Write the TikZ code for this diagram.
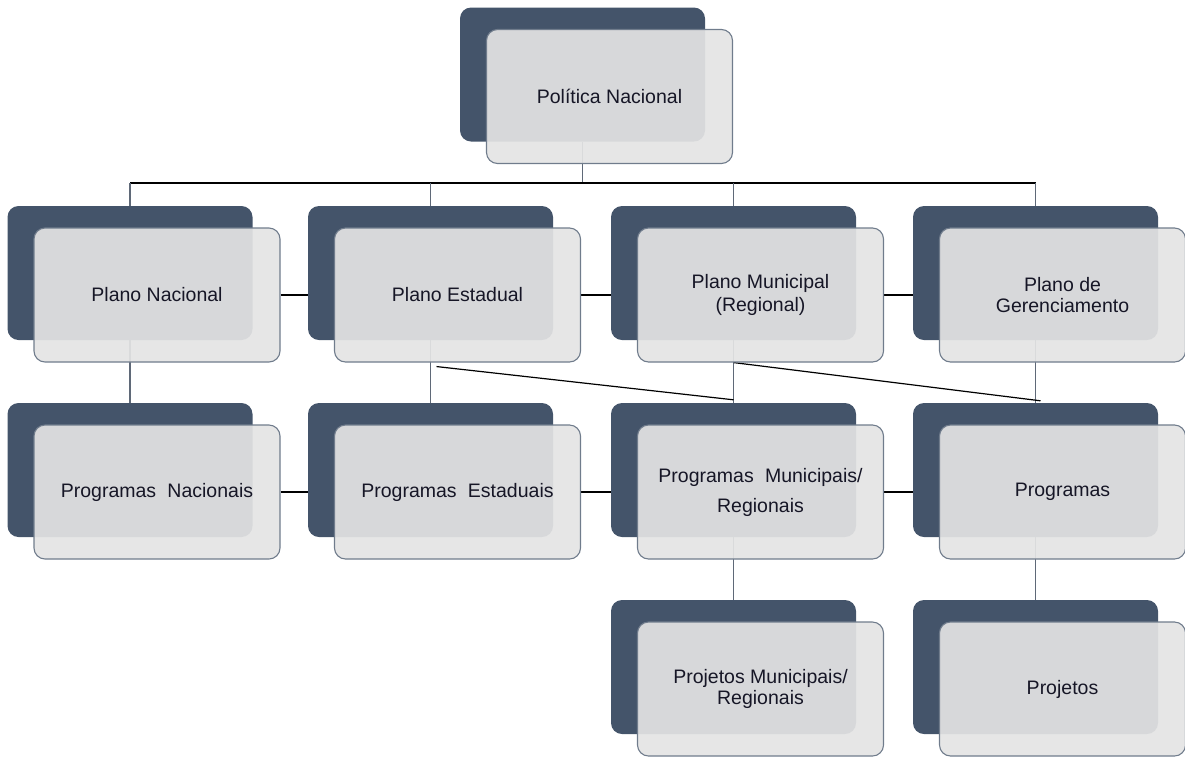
\documentclass[tikz,border=0pt]{standalone}
\usepackage{fontspec}
\setmainfont{Liberation Sans}
\usetikzlibrary{positioning,calc}
\pgfdeclarelayer{back}
\pgfdeclarelayer{links}
\pgfsetlayers{back,links,main}
\definecolor{slate}{RGB}{68,84,106}
\definecolor{paper}{RGB}{228,228,228}
\definecolor{rim}{RGB}{112,124,140}
\definecolor{stemgray}{RGB}{95,105,120}
\definecolor{ink}{RGB}{22,22,38}

% dark block behind, light card in front
\newcommand{\orgbox}[5][]{%
	\begin{pgfonlayer}{back}\node[backbox] (#2-b) at (#3,#4) {};\end{pgfonlayer}
	\node[card, xshift=27pt, yshift=-22pt, #1] (#2) at (#3,#4) {#5};}

\begin{document}
\begin{tikzpicture}[x=1pt,y=-1pt]
	\tikzset{backbox/.style={rounded corners=11pt, fill=slate, minimum width=245pt, minimum height=134pt, inner sep=0pt},
		card/.style={rounded corners=11pt, draw=rim, line width=1.1pt, fill=paper, fill opacity=0.92, text opacity=1,
			minimum width=246pt, minimum height=134pt, inner sep=0pt, align=center, text=ink,
			font=\fontsize{19.5}{23}\selectfont},
		wire/.style={line width=1.2pt, black},
		stem/.style={line width=1.2pt, stemgray}}
	\useasboundingbox (0,0) rectangle (1185,756);
	\clip (0,0) rectangle (1185,756);

	\orgbox{pol}{582.5}{74.5}{Política Nacional}
	% planos
	\orgbox{pnac}{130}{273}{Plano Nacional}
	\orgbox{pest}{430.5}{273}{Plano Estadual}
	\orgbox{pmun}{733.5}{273}{Plano Municipal\\(Regional)}
	\orgbox[font=\fontsize{19.5}{21}\selectfont]{pger}{1035.5}{273}{Plano de\\Gerenciamento}
	% programas
	\orgbox{gnac}{130}{470}{Programas\hspace{0.3em} Nacionais}
	\orgbox{gest}{430.5}{470}{Programas\hspace{0.3em} Estaduais}
	\orgbox[font=\fontsize{19.5}{30}\selectfont]{gmun}{733.5}{470}{Programas\hspace{0.3em} Municipais/\\Regionais}
	\orgbox{gger}{1035.5}{470}{Programas}
	% projetos
	\orgbox[font=\fontsize{19.5}{21}\selectfont]{jmun}{733.5}{667}{Projetos Municipais/\\Regionais}
	\orgbox{jger}{1035.5}{667}{Projetos}

	\begin{pgfonlayer}{links}
		\coordinate (bus) at (582.5,183);
		\draw[stem] (pol-b.south) -- (bus);
		\draw[wire] (pnac-b.north |- bus) -- (pger-b.north |- bus);
		\foreach \n in {pnac,pest,pmun,pger}
			\draw[stem] (\n-b.north) -- (\n-b.north |- bus);
		% same level
		\draw[wire] (pnac.east) -- (pnac.east -| pest-b.west);
		\draw[wire] (pest.east) -- (pest.east -| pmun-b.west);
		\draw[wire] (pmun.east) -- (pmun.east -| pger-b.west);
		\draw[wire] (gnac.east) -- (gnac.east -| gest-b.west);
		\draw[wire] (gest.east) -- (gest.east -| gmun-b.west);
		\draw[wire] (gmun.east) -- (gmun.east -| gger-b.west);
		% down
		\draw[stem] (pnac-b.south) -- (gnac-b.north);
		\draw[stem] (pest-b.south) -- (gest-b.north);
		\draw[stem] (pmun-b.south) -- (gmun-b.north);
		\draw[stem] (pger-b.south) -- (gger-b.north);
		\draw[stem] (gmun-b.south) -- (jmun-b.north);
		\draw[stem] (gger-b.south) -- (jger-b.north);
		% cross links
		\draw[wire] ($(pest-b.south |- pest.south)+(6,4)$) -- ($(gmun-b.north)+(0,-3)$);
		\draw[wire] (pmun-b.south |- pmun.south) -- ($(gger-b.north)+(5,-2)$);
	\end{pgfonlayer}
\end{tikzpicture}
\end{document}
